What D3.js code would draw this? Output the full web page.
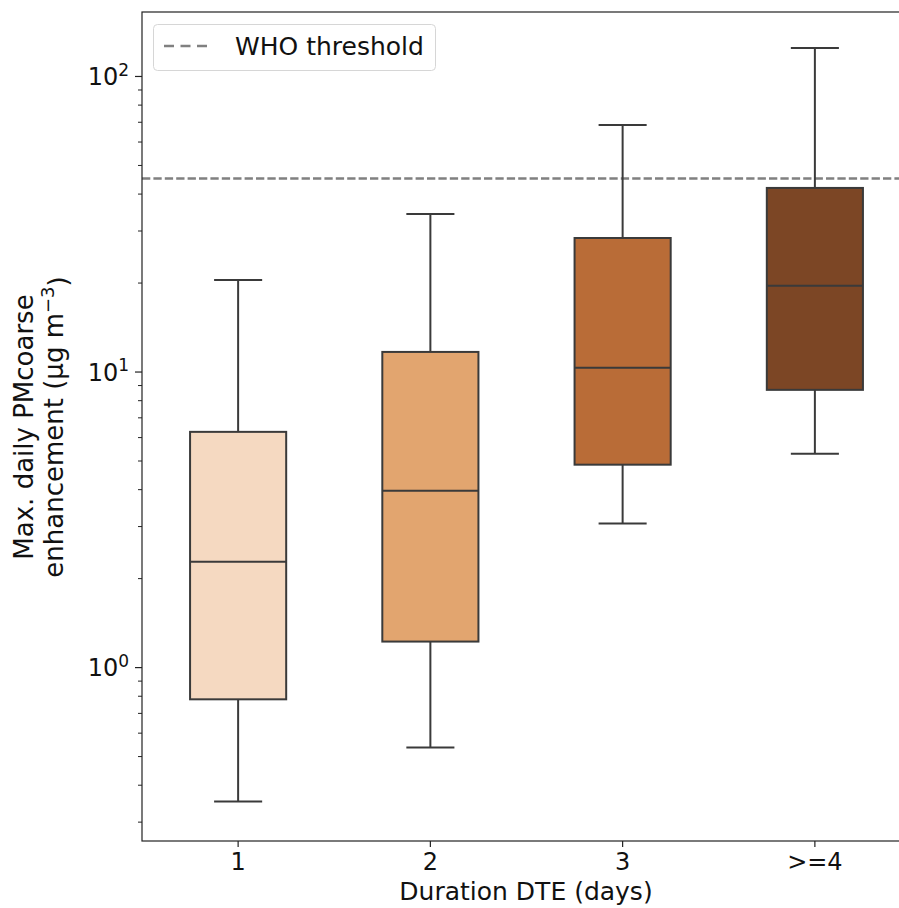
<!DOCTYPE html>
<html>
<head>
<meta charset="utf-8">
<script src="https://cdn.jsdelivr.net/npm/d3@7"></script>
<style>
  body { margin: 0; background: #fff; }
  svg { display: block; font-family: "DejaVu Sans", sans-serif; }
</style>
</head>
<body>
<svg id="chart" width="899" height="908"></svg>
<script>
'use strict';

// Box stats (µg m-3)
var categories = ['1', '2', '3', '>=4'];
var whiskerLow = [0.351, 0.535, 3.06, 5.27];
var q1 = [0.778, 1.22, 4.84, 8.67];
var medians = [2.27, 3.95, 10.3, 19.5];
var q3 = [6.25, 11.65, 28.3, 41.8];
var whiskerHigh = [20.4, 34.1, 68.2, 124.4];
var boxColors = ['#f5d9c1', '#e2a56f', '#b96c37', '#7c4625'];
var whoThreshold = 45;
var yTickValues = [1, 10, 100];
var yTickExponents = ['0', '1', '2'];

var svg = d3.select('#chart');
var margin = { left: 142, right: -12, top: 12, bottom: 67 };
var width = 899 - margin.left - margin.right;
var height = 908 - margin.top - margin.bottom;
var edge = '#3a3a3a';
var font = '"DejaVu Sans", sans-serif';

var g = svg.append('g').attr('transform', 'translate(' + margin.left + ',' + margin.top + ')');

var x = d3.scaleBand().domain(categories).range([0, width]).paddingInner(0).paddingOuter(0);
var y = d3.scaleLog().domain([0.258, 164.6]).range([height, 0]);

var boxW = x.bandwidth() * 0.5;

var rows = categories.map(function(c, i) {
    return { cat: c, lo: whiskerLow[i], q1: q1[i], med: medians[i], q3: q3[i], hi: whiskerHigh[i], color: boxColors[i] };
});

// WHO guideline
g.append('line')
    .attr('x1', 0).attr('x2', width)
    .attr('y1', y(whoThreshold)).attr('y2', y(whoThreshold))
    .attr('stroke', '#808080').attr('stroke-width', 2.6)
    .attr('stroke-dasharray', '8.3,3.1');

var boxes = g.selectAll('g.box').data(rows).enter().append('g').attr('class', 'box')
    .attr('transform', function(d) { return 'translate(' + (x(d.cat) + x.bandwidth() / 2) + ',0)'; });

// whiskers
boxes.append('line').attr('x1', 0).attr('x2', 0)
    .attr('y1', function(d) { return y(d.q3); }).attr('y2', function(d) { return y(d.hi); })
    .attr('stroke', edge).attr('stroke-width', 2);
boxes.append('line').attr('x1', 0).attr('x2', 0)
    .attr('y1', function(d) { return y(d.q1); }).attr('y2', function(d) { return y(d.lo); })
    .attr('stroke', edge).attr('stroke-width', 2);
// caps
boxes.append('line').attr('x1', -boxW / 4).attr('x2', boxW / 4)
    .attr('y1', function(d) { return y(d.hi); }).attr('y2', function(d) { return y(d.hi); })
    .attr('stroke', edge).attr('stroke-width', 2);
boxes.append('line').attr('x1', -boxW / 4).attr('x2', boxW / 4)
    .attr('y1', function(d) { return y(d.lo); }).attr('y2', function(d) { return y(d.lo); })
    .attr('stroke', edge).attr('stroke-width', 2);
// box
boxes.append('rect')
    .attr('x', -boxW / 2).attr('width', boxW)
    .attr('y', function(d) { return y(d.q3); })
    .attr('height', function(d) { return y(d.q1) - y(d.q3); })
    .attr('fill', function(d) { return d.color; })
    .attr('stroke', edge).attr('stroke-width', 2);
// median
boxes.append('line').attr('x1', -boxW / 2).attr('x2', boxW / 2)
    .attr('y1', function(d) { return y(d.med); }).attr('y2', function(d) { return y(d.med); })
    .attr('stroke', edge).attr('stroke-width', 2);

// y axis: minor ticks, then majors with 10^n labels
var minorTicks = [];
[0.1, 1, 10, 100].forEach(function(p) {
    for (var k = 2; k <= 9; k++) {
        var v = p * k;
        if (v >= y.domain()[0] && v <= y.domain()[1]) minorTicks.push(v);
    }
});
var yMinor = g.append('g')
    .call(d3.axisLeft(y).tickValues(minorTicks).tickSize(4).tickFormat(''));
yMinor.select('.domain').remove();
yMinor.selectAll('line').attr('stroke', '#222').attr('stroke-width', 1);

var yAxis = g.append('g')
    .call(d3.axisLeft(y).tickValues(yTickValues).tickSize(7).tickFormat(''));
yAxis.select('.domain').remove();
yAxis.selectAll('line').attr('stroke', '#222').attr('stroke-width', 1.2);
yAxis.selectAll('.tick').each(function(d, i) {
    var t = d3.select(this).append('text')
        .attr('x', -13).attr('dy', '0.36em')
        .attr('text-anchor', 'end')
        .attr('fill', '#111')
        .style('font-family', font)
        .style('font-size', '24px');
    t.append('tspan').text('10');
    t.append('tspan').attr('dy', '-0.55em').style('font-size', '17px').text(yTickExponents[i]);
});

// x axis
var xAxis = g.append('g').attr('transform', 'translate(0,' + height + ')')
    .call(d3.axisBottom(x).tickSize(6).tickPadding(6));
xAxis.select('.domain').remove();
xAxis.selectAll('line').attr('stroke', '#222').attr('stroke-width', 1.2);
xAxis.selectAll('text').attr('fill', '#111')
    .style('font-family', font).style('font-size', '24px');

// frame
g.append('rect').attr('x', 0).attr('y', 0).attr('width', width).attr('height', height)
    .attr('fill', 'none').attr('stroke', '#222').attr('stroke-width', 1.2);

// axis labels
svg.append('text')
    .attr('x', 526).attr('y', 900)
    .attr('text-anchor', 'middle').attr('fill', '#111')
    .style('font-size', '25px')
    .text('Duration DTE (days)');

var yl = svg.append('text')
    .attr('transform', 'translate(33,427) rotate(-90)')
    .attr('text-anchor', 'middle').attr('fill', '#111')
    .style('font-size', '26px');
yl.append('tspan').attr('x', 0).attr('dy', 0).text('Max. daily PMcoarse');
var l2 = yl.append('tspan').attr('x', 0).attr('dy', '1.15em');
l2.append('tspan').text('enhancement (\u00b5g m');
l2.append('tspan').attr('dy', '-0.5em').style('font-size', '18px').text('\u22123');
l2.append('tspan').attr('dy', '0.5em').text(')');

// legend
var lg = svg.append('g');
lg.append('rect').attr('x', 153.5).attr('y', 24.5).attr('width', 282).attr('height', 46)
    .attr('rx', 4).attr('fill', '#fff').attr('fill-opacity', 0.8)
    .attr('stroke', '#d6d6d6').attr('stroke-width', 1);
lg.append('line').attr('x1', 164).attr('x2', 209).attr('y1', 46).attr('y2', 46)
    .attr('stroke', '#808080').attr('stroke-width', 2.6).attr('stroke-dasharray', '10,6.5');
lg.append('text').attr('x', 235).attr('y', 46).attr('dy', '0.36em')
    .attr('fill', '#111').style('font-size', '25px').text('WHO threshold');
</script>
</body>
</html>
